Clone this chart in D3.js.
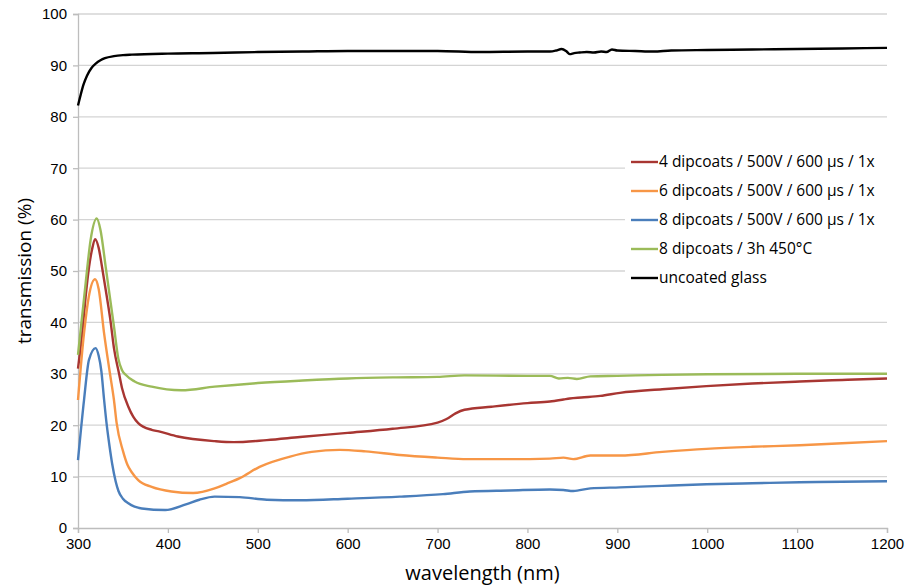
<!DOCTYPE html>
<html>
<head>
<meta charset="utf-8">
<script src="https://cdn.jsdelivr.net/npm/d3@7"></script>
<style>
  body { margin: 0; background: #fff; }
  svg { display: block; font-family: "Open Sans", sans-serif; }
</style>
</head>
<body>
<div id="chart"></div>
<script>
// data: [wavelength nm, transmission %]
const glass = [[300,82.2],[303,84.3],[306,86.2],[310,88],[315,89.5],[320,90.4],[325,91],[330,91.4],[340,91.8],[350,92],[360,92.1],[400,92.3],[450,92.4],[500,92.6],[550,92.7],[600,92.8],[650,92.8],[700,92.8],[747,92.6],[800,92.7],[825,92.7],[832,92.9],[838,93.2],[843,92.8],[847,92.2],[852,92.4],[858,92.5],[866,92.6],[874,92.5],[882,92.7],[888,92.6],[894,93.1],[900,92.9],[920,92.8],[940,92.7],[960,92.9],[1000,93.0],[1050,93.1],[1100,93.2],[1150,93.3],[1200,93.4]];

const dip4 = [[300,31],[305,38.5],[308.5,45],[312.3,50.8],[316,54.5],[319,56.2],[323,54.5],[327,50.5],[332.6,44.4],[336,40.5],[340,35],[345.6,30.1],[349,27.2],[356,23.6],[367,20.4],[382,19.1],[390,18.8],[411,17.8],[452,16.9],[473,16.7],[510,17.1],[547,17.7],[600,18.5],[650,19.3],[700,20.5],[710,21.2],[720,22.3],[730,23.0],[760,23.6],[800,24.3],[825,24.6],[840,25.0],[847,25.2],[860,25.4],[881,25.7],[903,26.3],[950,27.0],[999,27.6],[1050,28.1],[1103,28.5],[1150,28.8],[1200,29.1]];

const dip6 = [[300,24.9],[306.7,37.9],[312,45],[319,48.4],[323,46.5],[329,37.9],[335.5,30.1],[340,24.9],[343,20.4],[350,15],[355,12.3],[360,10.8],[367,9.3],[382,8.0],[404,7.1],[428,6.8],[452,7.7],[465,8.6],[480,9.7],[502,11.9],[536,13.9],[560,14.8],[591,15.2],[620,14.9],[658,14.2],[700,13.7],[733,13.4],[780,13.4],[825,13.5],[840,13.7],[851,13.4],[870,14.1],[903,14.1],[950,14.8],[999,15.4],[1050,15.8],[1103,16.1],[1150,16.5],[1200,16.9]];

const dip8 = [[300,13.2],[306.7,24.9],[312.2,32.7],[319.6,35],[323,33.5],[326,30.5],[329,25],[332,20],[335,16],[338,12.5],[342,9.0],[345,7.2],[350,5.7],[356,4.8],[371,3.8],[397,3.5],[420,4.6],[435,5.5],[452,6.1],[480,6.0],[510,5.5],[547,5.4],[600,5.7],[658,6.1],[706,6.6],[736,7.1],[780,7.3],[825,7.5],[840,7.4],[851,7.2],[870,7.7],[903,7.9],[950,8.2],[999,8.5],[1050,8.7],[1103,8.9],[1150,9.0],[1200,9.1]];

const dip8heat = [[300,33.7],[308.5,47.6],[314,56],[320.8,60.2],[325,58],[330.8,50.8],[340,39.2],[344.8,33],[349,30.7],[353,29.8],[363,28.5],[382,27.5],[415,26.8],[452,27.5],[500,28.2],[550,28.7],[600,29.1],[650,29.3],[700,29.4],[730,29.7],[800,29.6],[825,29.6],[835,29.1],[845,29.2],[855,29.0],[870,29.5],[900,29.6],[950,29.8],[1000,29.9],[1100,30.0],[1200,30.0]];

const seriesNames = ["4 dipcoats / 500V / 600 µs / 1x", "6 dipcoats / 500V / 600 µs / 1x", "8 dipcoats / 500V / 600 µs / 1x", "8 dipcoats / 3h 450°C", "uncoated glass"];
const seriesData = [dip4, dip6, dip8, dip8heat, glass];
const seriesColors = ["#A83632", "#F79646", "#4A7EBB", "#9BBB59", "#000000"];

const xTicks = [300, 400, 500, 600, 700, 800, 900, 1000, 1100, 1200];
const yTicks = [0, 10, 20, 30, 40, 50, 60, 70, 80, 90, 100];

const W = 916, H = 588;
const margin = {top: 14, right: 29, bottom: 60, left: 78};
const width = W - margin.left - margin.right;
const height = H - margin.top - margin.bottom;

const svg = d3.select("#chart").append("svg")
  .attr("width", W).attr("height", H);

const g = svg.append("g")
  .attr("transform", `translate(${margin.left},${margin.top})`);

const x = d3.scaleLinear().domain([300, 1200]).range([0, width]);
const y = d3.scaleLinear().domain([0, 100]).range([height, 0]);

// horizontal gridlines
g.append("g").selectAll("line")
  .data(yTicks.filter(d => d > 0))
  .join("line")
  .attr("x1", 0).attr("x2", width)
  .attr("y1", d => y(d)).attr("y2", d => y(d))
  .attr("stroke", "#D4D4D4").attr("stroke-width", 1.3);

// y axis
const yAxis = g.append("g")
  .call(d3.axisLeft(y).tickValues(yTicks).tickSize(5).tickPadding(6));
yAxis.select(".domain").attr("stroke", "#BDBDBD").attr("stroke-width", 1.3);
yAxis.selectAll(".tick line").attr("stroke", "#BDBDBD").attr("stroke-width", 1.3);
yAxis.selectAll("text").attr("font-size", 15).attr("fill", "#000");

// x axis
const xAxis = g.append("g")
  .attr("transform", `translate(0,${height})`)
  .call(d3.axisBottom(x).tickValues(xTicks).tickFormat(d3.format("d")).tickSize(5).tickPadding(5));
xAxis.select(".domain").attr("stroke", "#BDBDBD").attr("stroke-width", 1.3);
xAxis.selectAll(".tick line").attr("stroke", "#BDBDBD").attr("stroke-width", 1.3);
xAxis.selectAll("text").attr("font-size", 15).attr("fill", "#000");

// lines
const line = d3.line()
  .x(d => x(d[0]))
  .y(d => y(d[1]))
  .curve(d3.curveMonotoneX);

g.append("g").selectAll("path")
  .data(seriesData)
  .join("path")
  .attr("d", d => line(d))
  .attr("fill", "none")
  .attr("stroke", (d, i) => seriesColors[i])
  .attr("stroke-width", 2.4)
  .attr("stroke-linejoin", "round");

// axis titles
svg.append("text")
  .attr("x", margin.left + width / 2)
  .attr("y", 580)
  .attr("text-anchor", "middle")
  .attr("font-size", 20)
  .text("wavelength (nm)");

svg.append("text")
  .attr("transform", `translate(31,${margin.top + height / 2}) rotate(-90)`)
  .attr("text-anchor", "middle")
  .attr("font-size", 19)
  .text("transmission (%)");

// legend
const legend = svg.append("g").attr("transform", "translate(625,146)");
legend.append("rect")
  .attr("width", 263).attr("height", 146)
  .attr("fill", "#fff");

const item = legend.selectAll("g.item")
  .data(seriesNames)
  .join("g")
  .attr("class", "item")
  .attr("transform", (d, i) => `translate(0,${16 + i * 29})`);

item.append("line")
  .attr("x1", 6).attr("x2", 33)
  .attr("stroke", (d, i) => seriesColors[i])
  .attr("stroke-width", 2.4);

item.append("text")
  .attr("x", 34)
  .attr("dy", "0.35em")
  .attr("font-size", 15.5)
  .text(d => d);
</script>
</body>
</html>
